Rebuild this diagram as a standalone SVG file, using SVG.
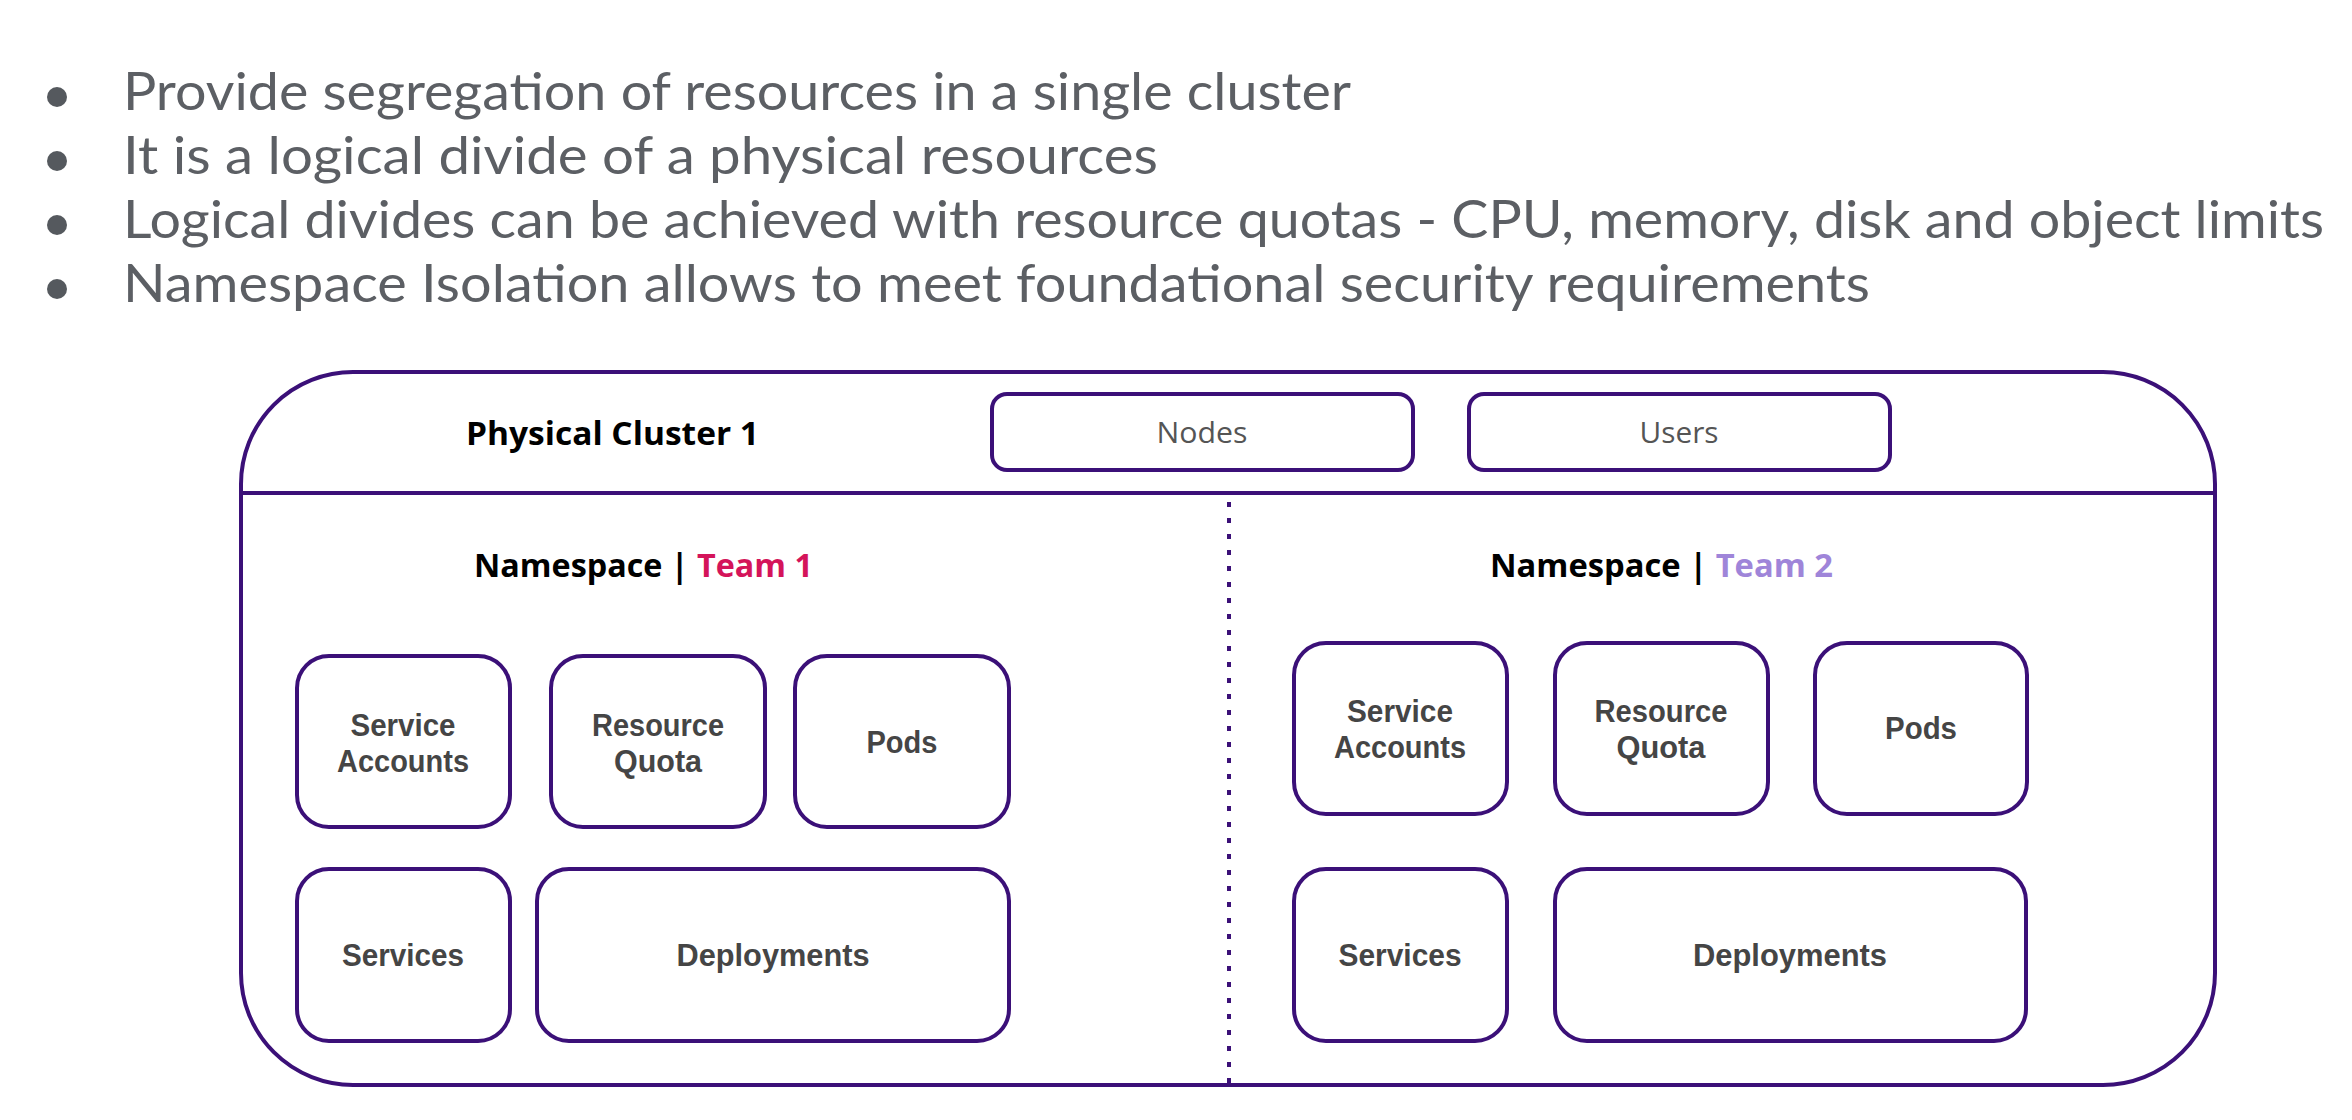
<svg xmlns="http://www.w3.org/2000/svg" width="2352" height="1120" viewBox="0 0 2352 1120">
<style>
  .bg { fill: #ffffff; }
  .bullet-dot { fill: #55595e; }
  .bullet { font-family: Lato, "Open Sans", sans-serif; font-weight: 400; font-size: 52px; fill: #5c5f64; }
  .frame { fill: none; stroke: #3b1078; stroke-width: 4; }
  .box { fill: #ffffff; stroke: #3b1078; stroke-width: 4; }
  .head { font-family: "Open Sans", "Noto Sans", sans-serif; font-weight: 700; font-size: 32px; fill: #000000; }
  .small { font-family: "Open Sans", "Noto Sans", sans-serif; font-weight: 400; font-size: 29px; fill: #555555; text-anchor: middle; }
  .label { font-family: "Liberation Sans", Arial, sans-serif; font-weight: 700; font-size: 32px; fill: #454545; text-anchor: middle; }
  .team1 { fill: #d4145a; }
  .team2 { fill: #9f85d9; }
  .dots { fill: none; stroke: #3b1078; stroke-width: 4; stroke-dasharray: 5 11; }
</style>
<rect class="bg" x="0" y="0" width="2352" height="1120"/>

<g id="bullets">
  <circle class="bullet-dot" cx="57" cy="97" r="10"/>
  <text class="bullet" x="123" y="110" textLength="1228" lengthAdjust="spacingAndGlyphs">Provide segregation of resources in a single cluster</text>
  <circle class="bullet-dot" cx="57" cy="161" r="10"/>
  <text class="bullet" x="123" y="174" textLength="1035" lengthAdjust="spacingAndGlyphs">It is a logical divide of a physical resources</text>
  <circle class="bullet-dot" cx="57" cy="225" r="10"/>
  <text class="bullet" x="123" y="238" textLength="2201" lengthAdjust="spacingAndGlyphs">Logical divides can be achieved with resource quotas - CPU, memory, disk and object limits</text>
  <circle class="bullet-dot" cx="57" cy="289" r="10"/>
  <text class="bullet" x="123" y="302" textLength="1747" lengthAdjust="spacingAndGlyphs">Namespace Isolation allows to meet foundational security requirements</text>
</g>

<g id="cluster">
  <rect class="frame" x="241" y="372" width="1974" height="713" rx="112" ry="112"/>
  <text class="head" x="466" y="445" textLength="293" lengthAdjust="spacingAndGlyphs">Physical Cluster 1</text>
</g>

<g id="dividers">
  <line class="frame" x1="241" y1="493" x2="2215" y2="493"/>
  <line class="dots" x1="1229" y1="502" x2="1229" y2="1083"/>
</g>

<g id="nodes">
  <rect class="box" x="992" y="394" width="421" height="76" rx="15" ry="15"/>
  <text class="small" x="1202" y="443" textLength="91" lengthAdjust="spacingAndGlyphs">Nodes</text>
</g>
<g id="users">
  <rect class="box" x="1469" y="394" width="421" height="76" rx="15" ry="15"/>
  <text class="small" x="1679" y="443" textLength="79" lengthAdjust="spacingAndGlyphs">Users</text>
</g>

<g id="namespace-team1">
  <text class="head" x="474" y="577" textLength="339" lengthAdjust="spacingAndGlyphs">Namespace | <tspan class="team1">Team 1</tspan></text>
</g>
<g id="namespace-team2">
  <text class="head" x="1490" y="577" textLength="343" lengthAdjust="spacingAndGlyphs">Namespace | <tspan class="team2">Team 2</tspan></text>
</g>

<g id="t1-service-accounts">
  <rect class="box" x="297" y="656" width="213" height="171" rx="32" ry="32"/>
  <text class="label" x="403" y="736" textLength="105" lengthAdjust="spacingAndGlyphs">Service</text>
  <text class="label" x="403" y="772" textLength="132" lengthAdjust="spacingAndGlyphs">Accounts</text>
</g>
<g id="t1-resource-quota">
  <rect class="box" x="551" y="656" width="214" height="171" rx="32" ry="32"/>
  <text class="label" x="658" y="736" textLength="132" lengthAdjust="spacingAndGlyphs">Resource</text>
  <text class="label" x="658" y="772" textLength="88" lengthAdjust="spacingAndGlyphs">Quota</text>
</g>
<g id="t1-pods">
  <rect class="box" x="795" y="656" width="214" height="171" rx="32" ry="32"/>
  <text class="label" x="902" y="753" textLength="71" lengthAdjust="spacingAndGlyphs">Pods</text>
</g>
<g id="t1-services">
  <rect class="box" x="297" y="869" width="213" height="172" rx="32" ry="32"/>
  <text class="label" x="403" y="966" textLength="122" lengthAdjust="spacingAndGlyphs">Services</text>
</g>
<g id="t1-deployments">
  <rect class="box" x="537" y="869" width="472" height="172" rx="32" ry="32"/>
  <text class="label" x="773" y="966" textLength="193" lengthAdjust="spacingAndGlyphs">Deployments</text>
</g>

<g id="t2-service-accounts">
  <rect class="box" x="1294" y="643" width="213" height="171" rx="32" ry="32"/>
  <text class="label" x="1400" y="722" textLength="106" lengthAdjust="spacingAndGlyphs">Service</text>
  <text class="label" x="1400" y="758" textLength="132" lengthAdjust="spacingAndGlyphs">Accounts</text>
</g>
<g id="t2-resource-quota">
  <rect class="box" x="1555" y="643" width="213" height="171" rx="32" ry="32"/>
  <text class="label" x="1661" y="722" textLength="133" lengthAdjust="spacingAndGlyphs">Resource</text>
  <text class="label" x="1661" y="758" textLength="89" lengthAdjust="spacingAndGlyphs">Quota</text>
</g>
<g id="t2-pods">
  <rect class="box" x="1815" y="643" width="212" height="171" rx="32" ry="32"/>
  <text class="label" x="1921" y="739" textLength="72" lengthAdjust="spacingAndGlyphs">Pods</text>
</g>
<g id="t2-services">
  <rect class="box" x="1294" y="869" width="213" height="172" rx="32" ry="32"/>
  <text class="label" x="1400" y="966" textLength="123" lengthAdjust="spacingAndGlyphs">Services</text>
</g>
<g id="t2-deployments">
  <rect class="box" x="1555" y="869" width="471" height="172" rx="32" ry="32"/>
  <text class="label" x="1790" y="966" textLength="194" lengthAdjust="spacingAndGlyphs">Deployments</text>
</g>
</svg>
